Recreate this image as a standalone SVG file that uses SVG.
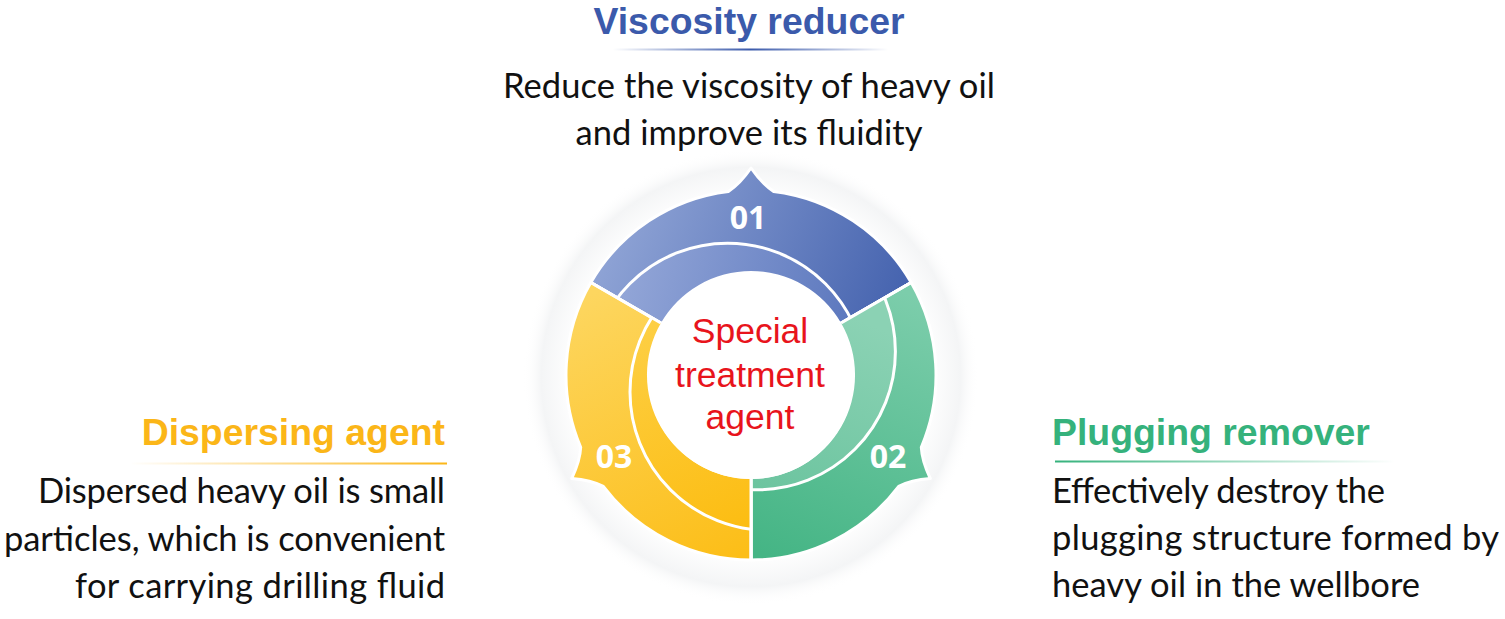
<svg xmlns="http://www.w3.org/2000/svg" width="1505" height="619" viewBox="0 0 1505 619">
<style>
.title{font-family:"Liberation Sans",Arial,sans-serif;font-weight:700;font-size:37.4px}
.body{font-family:Lato,"Noto Sans","Liberation Sans",sans-serif;font-size:34.5px;fill:#111}
.num{font-family:"Open Sans","Liberation Sans",sans-serif;font-weight:700;font-size:32px;fill:#fff}
.center{font-family:"Liberation Sans",Arial,sans-serif;font-size:35.5px;fill:#e8141c}
.seg{stroke:#fff;stroke-width:3;stroke-linejoin:round}
.sep{fill:none;stroke:#fff;stroke-width:3}
</style>
<defs>
<radialGradient id="halo" cx="751" cy="377" r="228" gradientUnits="userSpaceOnUse">
<stop offset="0.78" stop-color="#ffffff"/>
<stop offset="0.92" stop-color="#f4f5f6"/>
<stop offset="1" stop-color="#ffffff" stop-opacity="0"/>
</radialGradient>
<linearGradient id="gBlue" x1="600" y1="200" x2="900" y2="320" gradientUnits="userSpaceOnUse">
<stop offset="0" stop-color="#94a8d8"/>
<stop offset="1" stop-color="#4462ae"/>
</linearGradient>
<linearGradient id="gBlueIn" x1="620" y1="260" x2="860" y2="320" gradientUnits="userSpaceOnUse">
<stop offset="0" stop-color="#94a7d8"/>
<stop offset="1" stop-color="#5a76bd"/>
</linearGradient>
<linearGradient id="gGreen" x1="900" y1="290" x2="780" y2="560" gradientUnits="userSpaceOnUse">
<stop offset="0" stop-color="#7ccdab"/>
<stop offset="1" stop-color="#45b585"/>
</linearGradient>
<linearGradient id="gGreenIn" x1="860" y1="320" x2="780" y2="500" gradientUnits="userSpaceOnUse">
<stop offset="0" stop-color="#8bd2b4"/>
<stop offset="1" stop-color="#6cc49f"/>
</linearGradient>
<linearGradient id="gYellow" x1="600" y1="290" x2="730" y2="560" gradientUnits="userSpaceOnUse">
<stop offset="0" stop-color="#fdd65f"/>
<stop offset="1" stop-color="#fcbe18"/>
</linearGradient>
<linearGradient id="gYellowIn" x1="650" y1="320" x2="740" y2="530" gradientUnits="userSpaceOnUse">
<stop offset="0" stop-color="#fdcf44"/>
<stop offset="1" stop-color="#fcbd12"/>
</linearGradient>
<linearGradient id="uBlue" x1="613" y1="0" x2="888" y2="0" gradientUnits="userSpaceOnUse">
<stop offset="0" stop-color="#3b5aab" stop-opacity="0"/>
<stop offset="0.5" stop-color="#3b5aab"/>
<stop offset="1" stop-color="#3b5aab" stop-opacity="0"/>
</linearGradient>
<linearGradient id="uYellow" x1="130" y1="0" x2="447" y2="0" gradientUnits="userSpaceOnUse">
<stop offset="0" stop-color="#fbb618" stop-opacity="0"/>
<stop offset="1" stop-color="#fbb618"/>
</linearGradient>
<linearGradient id="uGreen" x1="1055" y1="0" x2="1395" y2="0" gradientUnits="userSpaceOnUse">
<stop offset="0" stop-color="#35b27c"/>
<stop offset="1" stop-color="#35b27c" stop-opacity="0"/>
</linearGradient>
<clipPath id="cBlue"><path d="M590.8,282.5 A185,185 0 0 1 911.2,282.5 L841.1,323 A104,104 0 0 0 660.9,323 Z"/></clipPath>
<clipPath id="cGreen"><path d="M911.2,282.5 A185,185 0 0 1 751,560 L751,479 A104,104 0 0 0 841.1,323 Z"/></clipPath>
<clipPath id="cYellow"><path d="M751,560 A185,185 0 0 1 590.8,282.5 L660.9,323 A104,104 0 0 0 751,479 Z"/></clipPath>
</defs>
<rect width="1505" height="619" fill="#fff"/>
<circle cx="751" cy="377" r="228" fill="url(#halo)"/>

<g id="node-01">
<path class="seg" fill="url(#gBlue)" d="M590.8,282.5 A185,185 0 0 1 728.4,191.4 Q740,184 751,168 Q762,184 773.6,191.4 A185,185 0 0 1 911.2,282.5 L841.1,323 A104,104 0 0 0 660.9,323 Z"/>
<g clip-path="url(#cBlue)"><circle cx="727.6" cy="381.6" r="138.4" fill="url(#gBlueIn)" stroke="#fff" stroke-width="3"/></g>
<path class="sep" d="M590.8,282.5 L660.9,323 M911.2,282.5 L841.1,323"/>
<text class="num" x="748" y="229" text-anchor="middle">01</text>
</g>

<g id="node-02">
<path class="seg" fill="url(#gGreen)" d="M911.2,282.5 A185,185 0 0 1 921.3,447.3 Q921.9,461 930.3,478.5 Q910.9,480 898.7,486.3 A185,185 0 0 1 751,560 L751,479 A104,104 0 0 0 841.1,323 Z"/>
<g clip-path="url(#cGreen)"><circle cx="757" cy="351.4" r="138.4" fill="url(#gGreenIn)" stroke="#fff" stroke-width="3"/></g>
<path class="sep" d="M911.2,282.5 L841.1,323 M751,560 L751,479"/>
<text class="num" x="888" y="468" text-anchor="middle">02</text>
</g>

<g id="node-03">
<path class="seg" fill="url(#gYellow)" d="M751,560 A185,185 0 0 1 603.3,486.4 Q591.1,480 571.7,478.5 Q580.1,461 580.7,447.3 A185,185 0 0 1 590.8,282.5 L660.9,323 A104,104 0 0 0 751,479 Z"/>
<g clip-path="url(#cYellow)"><circle cx="768.4" cy="392" r="138.4" fill="url(#gYellowIn)" stroke="#fff" stroke-width="3"/></g>
<path class="sep" d="M751,560 L751,479 M590.8,282.5 L660.9,323"/>
<text class="num" x="614" y="468" text-anchor="middle">03</text>
</g>

<g id="center">
<circle cx="751" cy="376" r="103" fill="#fff"/>
<text class="center" text-anchor="middle"><tspan x="750" y="343">Special</tspan><tspan x="750" y="387">treatment</tspan><tspan x="750" y="429">agent</tspan></text>
</g>

<g id="label-viscosity">
<text class="title" x="749" y="33.5" text-anchor="middle" fill="#3b5aab">Viscosity reducer</text>
<rect x="613" y="48.5" width="275" height="2" fill="url(#uBlue)"/>
<text class="body" x="749" y="98" text-anchor="middle" textLength="492" lengthAdjust="spacing">Reduce the viscosity of heavy oil</text>
<text class="body" x="749" y="145" text-anchor="middle" textLength="347" lengthAdjust="spacing">and improve its fluidity</text>
</g>

<g id="label-dispersing">
<text class="title" x="445" y="445" text-anchor="end" fill="#fbb618">Dispersing agent</text>
<rect x="130" y="462.5" width="317" height="2" fill="url(#uYellow)"/>
<text class="body" x="445" y="503" text-anchor="end" textLength="407" lengthAdjust="spacing">Dispersed heavy oil is small</text>
<text class="body" x="445" y="551" text-anchor="end" textLength="441" lengthAdjust="spacing">particles, which is convenient</text>
<text class="body" x="445" y="598" text-anchor="end" textLength="370" lengthAdjust="spacing">for carrying drilling fluid</text>
</g>

<g id="label-plugging">
<text class="title" x="1052" y="445" fill="#35b27c">Plugging remover</text>
<rect x="1055" y="460.5" width="340" height="2" fill="url(#uGreen)"/>
<text class="body" x="1052" y="503" textLength="333" lengthAdjust="spacing">Effectively destroy the</text>
<text class="body" x="1052" y="550" textLength="447" lengthAdjust="spacing">plugging structure formed by</text>
<text class="body" x="1052" y="597" textLength="368" lengthAdjust="spacing">heavy oil in the wellbore</text>
</g>

<g id="connectors"></g>
</svg>
